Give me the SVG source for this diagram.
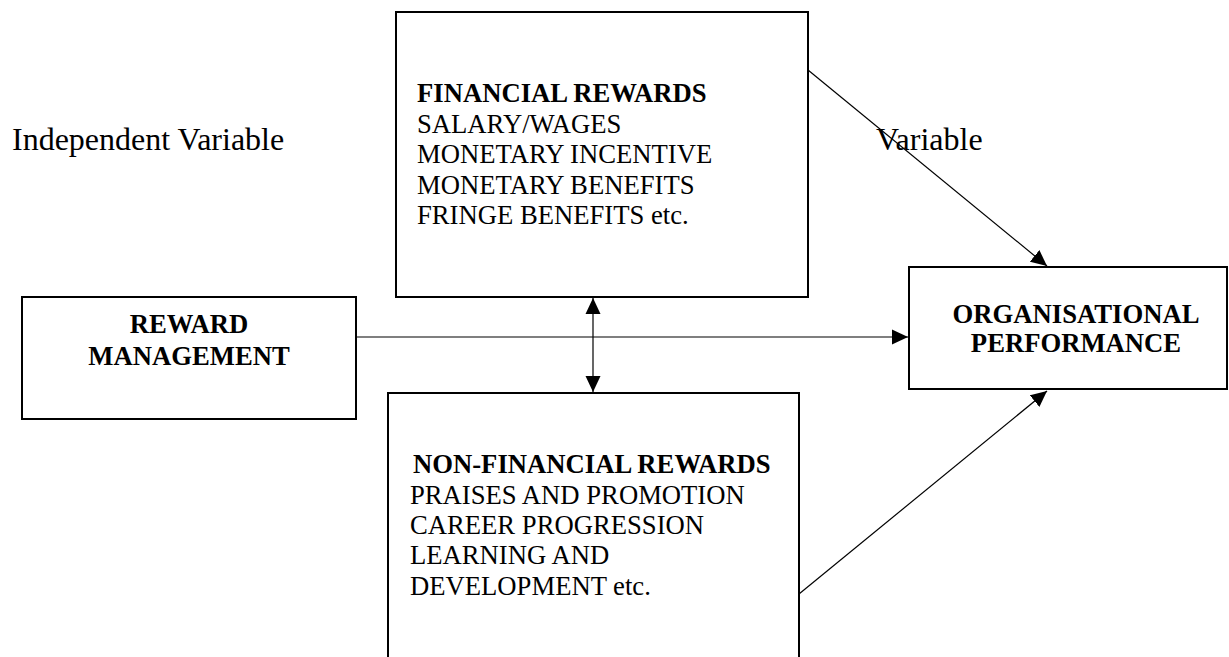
<svg xmlns="http://www.w3.org/2000/svg" width="1229" height="657" viewBox="0 0 1229 657">
  <style>
    .box { fill: #ffffff; stroke: #000000; stroke-width: 2; }
    .txt { font-family: "Liberation Serif", "Times New Roman", serif; font-size: 26.67px; fill: #000000; }
    .b { font-weight: bold; }
    .lbl { font-family: "Liberation Serif", "Times New Roman", serif; font-size: 32px; fill: #000000; }
    .conn { stroke: #000000; stroke-width: 1.2; fill: none; }
  </style>
  <defs>
    <marker id="arrow" markerUnits="userSpaceOnUse" markerWidth="16" markerHeight="16" viewBox="0 0 16 15" refX="16" refY="7.5" orient="auto-start-reverse">
      <path d="M0,0 L16,7.5 L0,15 Z" fill="#000000"/>
    </marker>
  </defs>
  <rect width="1229" height="657" fill="#ffffff"/>

  <!-- side labels -->
  <text class="lbl" x="12" y="150">Independent Variable</text>
  <text class="lbl" x="876" y="150">Variable</text>

  <g id="financial">
    <rect class="box" x="396" y="12" width="412" height="285"/>
    <text class="txt" x="417" y="102"><tspan class="b">FINANCIAL REWARDS</tspan><tspan x="417" dy="30.5">SALARY/WAGES</tspan><tspan x="417" dy="30.5">MONETARY INCENTIVE</tspan><tspan x="417" dy="30.5">MONETARY BENEFITS</tspan><tspan x="417" dy="30.5">FRINGE BENEFITS etc.</tspan></text>
  </g>

  <g id="reward">
    <rect class="box" x="22" y="297" width="334" height="122"/>
    <text class="txt b" x="189" y="333" text-anchor="middle">REWARD</text>
    <text class="txt b" x="189" y="365" text-anchor="middle">MANAGEMENT</text>
  </g>

  <g id="nonfinancial">
    <rect class="box" x="388" y="393" width="411" height="280"/>
    <text class="txt" x="413" y="473"><tspan class="b">NON-FINANCIAL REWARDS</tspan><tspan x="410" dy="31">PRAISES AND PROMOTION</tspan><tspan x="410" dy="30">CAREER PROGRESSION</tspan><tspan x="410" dy="30">LEARNING AND</tspan><tspan x="410" dy="31">DEVELOPMENT etc.</tspan></text>
  </g>

  <g id="performance">
    <rect class="box" x="909" y="267" width="318" height="122"/>
    <text class="txt b" x="1076" y="323" text-anchor="middle">ORGANISATIONAL</text>
    <text class="txt b" x="1076" y="352" text-anchor="middle">PERFORMANCE</text>
  </g>

  <g id="connectors">
    <line class="conn" x1="356" y1="337" x2="908" y2="337" marker-end="url(#arrow)"/>
    <line class="conn" x1="593" y1="298" x2="593" y2="392" marker-start="url(#arrow)" marker-end="url(#arrow)"/>
    <line class="conn" x1="808" y1="70" x2="1047" y2="266" marker-end="url(#arrow)"/>
    <line class="conn" x1="799" y1="594" x2="1047" y2="391" marker-end="url(#arrow)"/>
  </g>
</svg>
